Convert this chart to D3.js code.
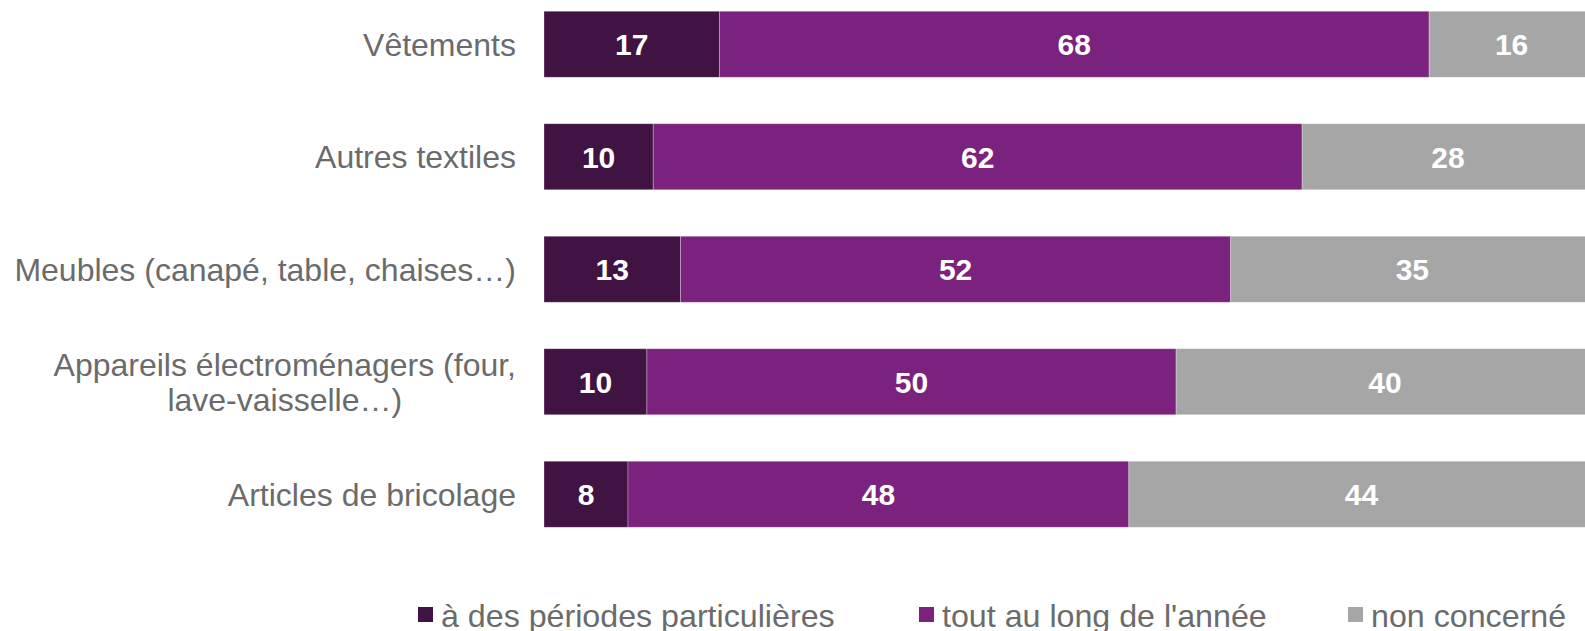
<!DOCTYPE html>
<html lang="fr">
<head>
    <meta charset="utf-8">
    <title>Achats par période</title>
    <script src="https://d3js.org/d3.v7.min.js"></script>
    <style>
        body {
            margin: 0;
            padding: 0;
            background-color: #ffffff;
            font-family: 'Liberation Sans', Arial, sans-serif;
            overflow: hidden;
        }
        .cat-label { fill: #6b6b6b; font-size: 32px; }
        .val-label { fill: #ffffff; font-size: 30px; font-weight: bold; }
        .legend-label { fill: #6b6b6b; font-size: 32.2px; }
    </style>
</head>
<body>
    <div id="chart"></div>

    <script>
        // Data (percent)
        var categories = [
            ["Vêtements"],
            ["Autres textiles"],
            ["Meubles (canapé, table, chaises…)"],
            ["Appareils électroménagers (four,", "lave-vaisselle…)"],
            ["Articles de bricolage"]
        ];
        var seriesNames = ["à des périodes particulières", "tout au long de l'année", "non concerné"];
        var periodesParticulieres = [16.7, 10.4, 13.0, 9.8, 8.0];
        var toutAuLong = [67.6, 61.8, 52.4, 50.4, 47.7];
        var nonConcerne = [15.7, 27.8, 34.6, 39.8, 44.3];
        var colors = ["#401342", "#7a227d", "#a6a6a6"];

        var width = 1585, height = 631;

        var svg = d3.select("#chart")
            .append("svg")
            .attr("width", width)
            .attr("height", height);

        // Build rows for stacking
        var keys = ["p", "t", "n"];
        var rows = categories.map(function(c, i) {
            return { idx: i, p: periodesParticulieres[i], t: toutAuLong[i], n: nonConcerne[i] };
        });
        var stacked = d3.stack().keys(keys)(rows);

        var x = d3.scaleLinear()
            .domain([0, 100])
            .range([544, 1594]);

        var y = d3.scaleBand()
            .domain(d3.range(categories.length))
            .range([-12, 550.5])
            .paddingInner(0.413)
            .paddingOuter(0.2065);

        // Bars
        var layers = svg.selectAll("g.layer")
            .data(stacked)
            .enter()
            .append("g")
            .attr("class", "layer")
            .attr("fill", function(d, i) { return colors[i]; });

        layers.selectAll("rect")
            .data(function(d) { return d; })
            .enter()
            .append("rect")
            .attr("x", function(d) { return x(d[0]); })
            .attr("y", function(d) { return y(d.data.idx); })
            .attr("width", function(d) { return x(d[1]) - x(d[0]); })
            .attr("height", y.bandwidth())
            .attr("stroke", "#ffffff")
            .attr("stroke-opacity", 0.4)
            .attr("stroke-width", 0.75);

        // Value labels
        layers.selectAll("text")
            .data(function(d) { return d; })
            .enter()
            .append("text")
            .attr("class", "val-label")
            .attr("x", function(d) { return (x(d[0]) + x(d[1])) / 2; })
            .attr("y", function(d) { return y(d.data.idx) + y.bandwidth() / 2; })
            .attr("dy", "0.36em")
            .attr("text-anchor", "middle")
            .text(function(d) { return d3.format(".0f")(d[1] - d[0]); });

        // Category labels (right aligned block, lines centred)
        var lineH = 35.5;
        categories.forEach(function(lines, i) {
            var cy = y(i) + y.bandwidth() / 2;
            var t = svg.append("text")
                .attr("class", "cat-label")
                .attr("text-anchor", "middle");
            lines.forEach(function(line, j) {
                t.append("tspan")
                    .attr("x", 0)
                    .attr("y", cy + (j - (lines.length - 1) / 2) * lineH)
                    .attr("dy", "0.36em")
                    .text(line);
            });
            // centre lines within a block whose right edge sits at 516
            var w = t.node().getBBox().width;
            t.selectAll("tspan").attr("x", 516 - w / 2);
        });

        // Legend
        var legendX = [416, 917, 1346];
        var legend = svg.selectAll("g.legend")
            .data(seriesNames)
            .enter()
            .append("g")
            .attr("class", "legend")
            .attr("transform", function(d, i) { return "translate(" + legendX[i] + ",615)"; });

        legend.append("rect")
            .attr("x", 2)
            .attr("y", -8)
            .attr("width", 15)
            .attr("height", 15)
            .attr("fill", function(d, i) { return colors[i]; });

        legend.append("text")
            .attr("class", "legend-label")
            .attr("x", 25)
            .attr("dy", "0.36em")
            .text(function(d) { return d; });
    </script>
</body>
</html>
